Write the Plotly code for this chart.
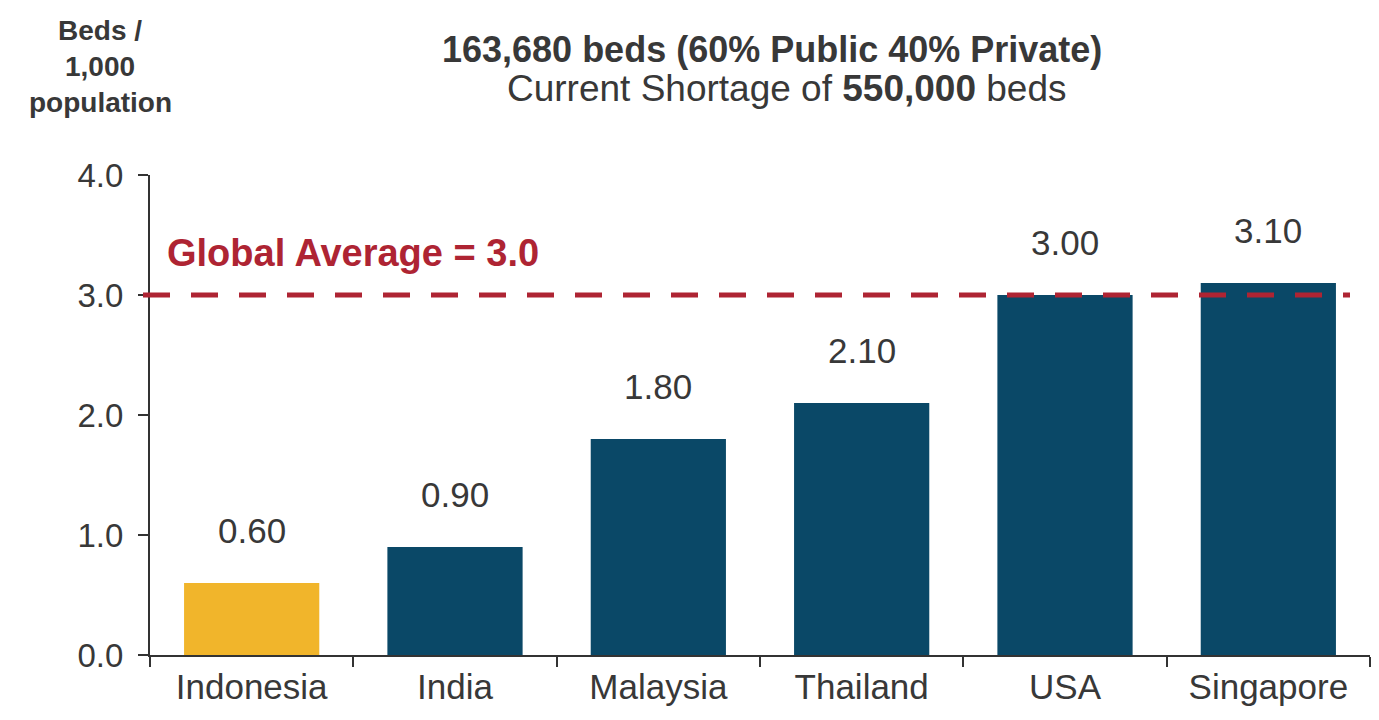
import plotly.graph_objects as go

countries = ["Indonesia", "India", "Malaysia", "Thailand", "USA", "Singapore"]
beds_per_1000 = [0.60, 0.90, 1.80, 2.10, 3.00, 3.10]
bar_colors = ["#F1B52B", "#0A4867", "#0A4867", "#0A4867", "#0A4867", "#0A4867"]
global_average = 3.0
y_ticks = [0.0, 1.0, 2.0, 3.0, 4.0]
y_title_lines = ["Beds /", "1,000", "population"]
title_line1 = "163,680 beds (60% Public 40% Private)"
title_line2 = "Current Shortage of <b>550,000</b> beds"
avg_label = "Global Average = 3.0"

TXT = "#383838"
RED = "#AE2433"
FONT = "Liberation Sans, Arial, sans-serif"

# page offset (default body margin) and figure geometry
OFF = 8
W, H = 1379 - 2 * OFF, 720 - 2 * OFF
ML, MR, MT, MB = 150 - OFF, 1379 - 1371 - OFF + 1, 175 - OFF, H - (655 - OFF)
pw, ph = W - ML - MR, H - MT - MB


def px(sx):
    return (sx - OFF - ML) / pw


def py(sy):
    return 1 - (sy - OFF - MT) / ph


fig = go.Figure()
fig.add_trace(go.Bar(
    x=countries, y=beds_per_1000,
    marker=dict(color=bar_colors, line=dict(width=0)),
    hoverinfo="skip", showlegend=False,
))

fig.add_shape(type="line", xref="paper", yref="y",
              x0=px(143), x1=px(1350), y0=global_average, y1=global_average,
              line=dict(color=RED, width=5, dash="27px,21px"), layer="above")

for c, v in zip(countries, beds_per_1000):
    fig.add_annotation(x=c, y=v, xref="x", yref="y", text=f"{v:.2f}",
                       showarrow=False, yshift=53, yanchor="middle",
                       font=dict(size=35, color=TXT, family=FONT))

fig.add_annotation(x=px(165), y=global_average, xref="paper", yref="y",
                   text=f"<b>{avg_label}</b>", showarrow=False,
                   xanchor="left", yanchor="middle", yshift=42,
                   font=dict(size=38, color=RED, family=FONT))

for i, line in enumerate(y_title_lines):
    fig.add_annotation(x=px(100), y=py(30 + 36 * i), xref="paper", yref="paper",
                       text=f"<b>{line}</b>", showarrow=False,
                       xanchor="center", yanchor="middle",
                       font=dict(size=28, color=TXT, family=FONT))

fig.add_annotation(x=px(772), y=py(50), xref="paper", yref="paper",
                   text=f"<b>{title_line1}</b>", showarrow=False,
                   xanchor="center", yanchor="middle",
                   font=dict(size=36, color=TXT, family=FONT))
fig.add_annotation(x=px(787), y=py(88), xref="paper", yref="paper",
                   text=title_line2, showarrow=False,
                   xanchor="center", yanchor="middle",
                   font=dict(size=37, color=TXT, family=FONT))

fig.update_layout(
    width=W, height=H,
    margin=dict(l=ML, r=MR, t=MT, b=MB, autoexpand=False),
    paper_bgcolor="white", plot_bgcolor="white",
    bargap=0.335,
    font=dict(family=FONT, color=TXT),
    xaxis=dict(
        showline=True, linecolor="#333333", linewidth=2,
        ticks="outside", ticklen=10, tickwidth=2, tickcolor="#333333",
        tickson="boundaries", showgrid=False,
        tickfont=dict(size=35, color=TXT, family=FONT),
        range=[-0.5, 5.5],
    ),
    yaxis=dict(
        range=[0, 4], tickvals=y_ticks, tickformat=".1f",
        showline=True, linecolor="#333333", linewidth=2,
        ticks="outside", ticklen=10, tickwidth=2, tickcolor="#333333",
        showgrid=False, zeroline=False,
        tickfont=dict(size=33, color=TXT, family=FONT),
        ticklabelstandoff=8,
    ),
)

fig.write_html("out.html")
